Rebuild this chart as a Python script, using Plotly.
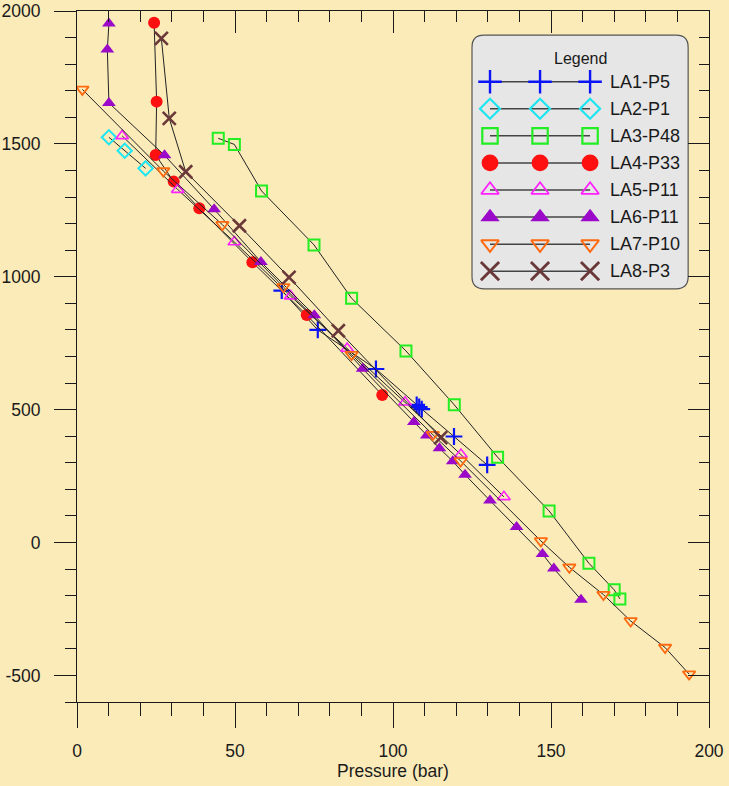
import plotly.graph_objects as go

# ---------------- data ----------------
LA1_P = [64.8, 76.2, 94.6, 107.5, 108.3, 109.1, 119.3, 129.8]
LA1_Y = [948, 800, 653, 518, 510, 502, 399, 292]

LA2_P = [10.1, 15.1, 21.7]
LA2_Y = [1525, 1474, 1408]

LA3_P = [44.7, 49.8, 58.4, 75.0, 86.9, 104.1, 119.4, 133.1, 149.4, 162.0, 170.0, 171.8]
LA3_Y = [1521, 1498, 1323, 1120, 919, 721, 518, 321, 119, -78, -178, -212]

LA4_P = [24.4, 25.2, 24.9, 30.6, 38.7, 55.5, 72.7, 96.6]
LA4_Y = [1956, 1659, 1458, 1358, 1258, 1055, 856, 555]

LA5_P = [14.3, 31.9, 49.8, 67.6, 85.5, 103.8, 121.5, 135.1]
LA5_Y = [1530, 1328, 1131, 927, 730, 528, 331, 172]

LA6_P = [10.1, 9.6, 10.1, 27.7, 43.4, 58.2, 75.1, 90.4, 106.6, 110.7, 114.7, 118.9,
         122.8, 130.7, 139.1, 147.3, 150.9, 159.5]
LA6_Y = [1953, 1855, 1654, 1457, 1254, 1056, 855, 654, 454, 403, 355, 306,
         255, 158, 58, -43, -98, -215]

LA7_P = [1.7, 27.3, 46.0, 65.3, 86.9, 112.6, 121.4, 146.8, 155.8, 166.6, 175.2, 186.1, 193.7]
LA7_Y = [1705, 1398, 1196, 962, 707, 406, 307, 6, -93, -196, -295, -395, -495]

LA8_P = [26.7, 29.2, 34.4, 51.4, 67.1, 82.7, 115.1]
LA8_Y = [1897, 1596, 1395, 1192, 998, 797, 395]

NAMES = ["LA1-P5", "LA2-P1", "LA3-P48", "LA4-P33", "LA5-P11", "LA6-P11", "LA7-P10", "LA8-P3"]
PRESSURES = [LA1_P, LA2_P, LA3_P, LA4_P, LA5_P, LA6_P, LA7_P, LA8_P]
ELEVATIONS = [LA1_Y, LA2_Y, LA3_Y, LA4_Y, LA5_Y, LA6_Y, LA7_Y, LA8_Y]

X_TICKS = [0, 50, 100, 150, 200]
Y_TICKS = [-500, 0, 500, 1000, 1500, 2000]

# ---------------- styles ----------------
STYLES = [
    dict(symbol="cross-thin", color="#0A14F5", size=12, lw=2.2, filled=False),
    dict(symbol="diamond-open", color="#1EE6F0", size=11, lw=2, filled=False),
    dict(symbol="square-open", color="#22EE22", size=11, lw=2, filled=False),
    dict(symbol="circle", color="#FF1010", size=12, lw=0, filled=True),
    dict(symbol="triangle-up-open", color="#FF22FF", size=11, lw=1.6, filled=False),
    dict(symbol="triangle-up", color="#9A0AC8", size=12, lw=0, filled=True),
    dict(symbol="triangle-down-open", color="#FF6A10", size=11, lw=1.8, filled=False),
    dict(symbol="x-thin", color="#6A3838", size=13, lw=2.6, filled=False),
]

FONT = "Liberation Sans, Arial, sans-serif"
INK = "#1a1a1a"
BG = "#FBEBB9"


def marker_for(st, scale=1.0):
    m = dict(symbol=st["symbol"], size=st["size"] * scale, color=st["color"])
    if st["filled"]:
        m["line"] = dict(width=0)
    else:
        m["line"] = dict(color=st["color"], width=st["lw"] * (1.1 if scale > 1 else 1.0))
    return m


fig = go.Figure()

# main series
for name, p, y, st in zip(NAMES, PRESSURES, ELEVATIONS, STYLES):
    fig.add_trace(go.Scatter(
        x=p, y=y, name=name, mode="lines+markers",
        line=dict(color="#222222", width=1),
        marker=marker_for(st),
        showlegend=False,
    ))

# dummy trace so the mirrored (top/right) axes are drawn
fig.add_trace(go.Scatter(x=[], y=[], xaxis="x2", yaxis="y2", showlegend=False, hoverinfo="skip"))

# custom legend panel (three markers per entry, like the original)
for i, (name, st) in enumerate(zip(NAMES, STYLES)):
    fig.add_trace(go.Scatter(
        x=[0, 1, 2], y=[-i] * 3, mode="lines+markers",
        line=dict(color="#444444", width=1.5),
        marker=marker_for(st, scale=1.4),
        xaxis="x3", yaxis="y3", showlegend=False, hoverinfo="skip",
    ))
    fig.add_annotation(x=2.36, y=-i, xref="x3", yref="y3", text=name, showarrow=False,
                       xanchor="left", yanchor="middle",
                       font=dict(family=FONT, size=18, color=INK))

fig.add_annotation(x=1.8, y=0.87, xref="x3", yref="y3", text="Legend", showarrow=False,
                   xanchor="center", yanchor="middle", font=dict(family=FONT, size=16, color=INK))

# rounded legend box
x0, x1, y0, y1 = 0.625, 0.967, 0.598, 0.965
rx, ry = 0.019, 0.0174
path = (f"M {x0+rx},{y0} L {x1-rx},{y0} Q {x1},{y0} {x1},{y0+ry} L {x1},{y1-ry} "
        f"Q {x1},{y1} {x1-rx},{y1} L {x0+rx},{y1} Q {x0},{y1} {x0},{y1-ry} "
        f"L {x0},{y0+ry} Q {x0},{y0} {x0+rx},{y0} Z")
fig.add_shape(type="path", path=path, xref="paper", yref="paper",
              fillcolor="#E6E6E6", line=dict(color="#555555", width=1.2), layer="below")

axis_common = dict(showline=True, linecolor=INK, linewidth=1, showgrid=False, zeroline=False,
                   tickcolor=INK, tickwidth=1, automargin=False)

fig.update_layout(
    width=729, height=786,
    margin=dict(l=77, r=20, t=11, b=84, autoexpand=False),
    paper_bgcolor=BG, plot_bgcolor="rgba(0,0,0,0)",
    font=dict(family=FONT, size=17, color=INK),
    xaxis=dict(**axis_common, range=[0, 200], tickvals=X_TICKS, ticktext=[str(v) for v in X_TICKS],
               ticks="outside", ticklen=25,
               minor=dict(ticks="outside", ticklen=13, dtick=10, tick0=0, tickcolor=INK),
               ticklabelstandoff=8,
               title=dict(text="Pressure (bar)", standoff=2, font=dict(size=17.5)),
               tickfont=dict(size=17.5)),
    xaxis2=dict(**axis_common, range=[0, 200], overlaying="x", side="top", anchor="y2",
                tickvals=X_TICKS, ticks="inside", ticklen=22, showticklabels=False,
                minor=dict(ticks="inside", ticklen=11, dtick=10, tick0=0, tickcolor=INK)),
    yaxis=dict(**axis_common, range=[-600, 2000], tickvals=Y_TICKS, ticktext=[str(v) for v in Y_TICKS],
               ticks="outside", ticklen=22,
               minor=dict(ticks="outside", ticklen=11, dtick=100, tick0=0, tickcolor=INK),
               ticklabelstandoff=10, tickfont=dict(size=17.5)),
    yaxis2=dict(**axis_common, range=[-600, 2000], overlaying="y", side="right", anchor="x2",
                tickvals=Y_TICKS, ticks="inside", ticklen=21, showticklabels=False,
                minor=dict(ticks="inside", ticklen=10, dtick=100, tick0=0, tickcolor=INK)),
    xaxis3=dict(domain=[0.625, 0.967], anchor="y3", range=[-0.36, 3.96], visible=False, fixedrange=True),
    yaxis3=dict(domain=[0.598, 0.965], anchor="x3", range=[-7.65, 1.72], visible=False, fixedrange=True),
    showlegend=False,
)

fig.write_html("out.html")
